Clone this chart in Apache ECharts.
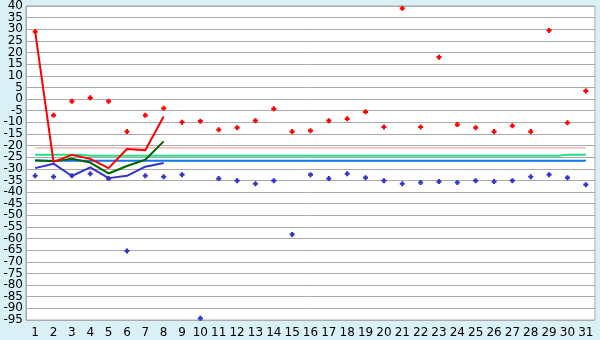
<!DOCTYPE html>
<html>
<head>
<meta charset="utf-8">
<script src="https://cdn.jsdelivr.net/npm/echarts@6/dist/echarts.min.js"></script>
<style>
html,body{margin:0;padding:0;background:#d9f0f7;}
#c{width:600px;height:340px;}
</style>
</head>
<body>
<div id="c"></div>
<script>
var days = ['1','2','3','4','5','6','7','8','9','10','11','12','13','14','15','16','17','18','19','20','21','22','23','24','25','26','27','28','29','30','31'];
var yTicksA = [40,30,20,10,0,-10,-20,-30,-40,-50,-60,-70,-80,-90];
var yTicksB = [35,25,15,5,-5,-15,-25,-35,-45,-55,-65,-75,-85,-95];
var redPoints = [29,-7,-1,0.5,-1,-14,-7,-4,-10,-9.5,-13.2,-12.3,-9.3,-4.2,-14,-13.6,-9.3,-8.5,-5.5,-12,39,-12,18,-11,-12.3,-14,-11.5,-14,29.5,-10.2,3.5];
var bluePoints = [-33,-33.4,-33,-32.1,-34.2,-65.3,-33,-33.4,-32.5,-94.3,-34.2,-35.1,-36.4,-35.1,-58.2,-32.5,-34.2,-32.1,-33.8,-35.1,-36.4,-35.9,-35.5,-35.9,-35.1,-35.5,-35.1,-33.4,-32.5,-33.8,-36.8];
var redLine = [29,-27,-24,-25.7,-29.7,-21.5,-22,-7.5];
var greenLine = [-26.3,-26.8,-25.7,-27.3,-32,-28.8,-26.1,-18.2];
var blueLine = [-29.7,-27.8,-33.1,-29.4,-34,-33,-29.1,-27.5];
var pinkRef = [-21,-21,-21,-21,-21,-21,-21,-21,-21,-21,-21,-21,-21,-21,-21,-21,-21,-21,-21,-21,-21,-21,-21,-21,-21,-21,-21,-21,-21,-21,-21];
var greenRef = [-23.9,-23.9,-23.9,-24.4,-24.4,-24.4,-24.4,-24.4,-24.4,-24.4,-24.4,-24.4,-24.4,-24.4,-24.4,-24.4,-24.4,-24.4,-24.4,-24.4,-24.4,-24.4,-24.4,-24.4,-24.4,-24.4,-24.4,-24.4,-24.4,-23.9,-23.9];
var blueRef = [-26.5,-26.5,-26.5,-26.5,-26.5,-26.5,-26.5,-26.5,-26.5,-26.5,-26.5,-26.5,-26.5,-26.5,-26.5,-26.5,-26.5,-26.5,-26.5,-26.5,-26.5,-26.5,-26.5,-26.5,-26.5,-26.5,-26.5,-26.5,-26.5,-26.5,-26.5];

var plus = 'path://M2,0H5V2H7V5H5V7H2V5H0V2H2Z';
var font = 'DejaVu Sans';
var yLabel = function (vals) {
  return {color: '#000', fontFamily: font, fontSize: 12, margin: 3, customValues: vals};
};
var chart = echarts.init(document.getElementById('c'), null, {renderer:'canvas'});
chart.setOption({
  backgroundColor: '#d9f0f7',
  animation: false,
  grid: {left: 26, right: 5, top: 5, bottom: 20, show: true, backgroundColor: '#ffffff', borderColor: '#aaaaaa', borderWidth: 1},
  xAxis: {
    type: 'category', data: days, boundaryGap: true,
    axisLine: {lineStyle: {color: '#aaaaaa', width: 1}},
    axisTick: {alignWithLabel: true, length: 5, lineStyle: {color: '#000000'}},
    axisLabel: {color: '#000', fontFamily: font, fontSize: 12, margin: 7, interval: 0},
    splitLine: {show: false}
  },
  yAxis: [{
    type: 'value', min: -95, max: 40, interval: 5, position: 'left',
    axisLine: {show: true, lineStyle: {color: '#aaaaaa'}},
    axisTick: {show: false},
    axisLabel: yLabel(yTicksA),
    splitLine: {lineStyle: {color: '#aaaaaa', width: 1}}
  }, {
    type: 'value', min: -95, max: 40, interval: 5, position: 'left', offset: 0,
    axisLine: {show: false},
    axisTick: {show: false},
    axisLabel: yLabel(yTicksB),
    splitLine: {show: false}
  }],
  series: [
    {type:'line', data: pinkRef, symbol:'none', lineStyle:{color:'#f09090', width:1}, z:1},
    {type:'line', data: greenRef, step:'middle', symbol:'none', lineStyle:{color:'#22e088', width:2}, z:1},
    {type:'line', data: blueRef, symbol:'none', lineStyle:{color:'#0a78ee', width:2}, z:1},
    {type:'line', data: blueLine, symbol:'none', lineStyle:{color:'#3333cc', width:2}, z:2},
    {type:'line', data: greenLine, symbol:'none', lineStyle:{color:'#006600', width:2}, z:3},
    {type:'line', data: redLine, symbol:'none', lineStyle:{color:'#ff0000', width:2}, z:4},
    {type:'scatter', data: redPoints, symbol: plus, symbolSize: 5, itemStyle:{color:'#ff0000', opacity:1}, z:5},
    {type:'scatter', data: bluePoints, symbol: plus, symbolSize: 5, itemStyle:{color:'#3333cc', opacity:1}, z:5}
  ]
});
</script>
</body>
</html>
